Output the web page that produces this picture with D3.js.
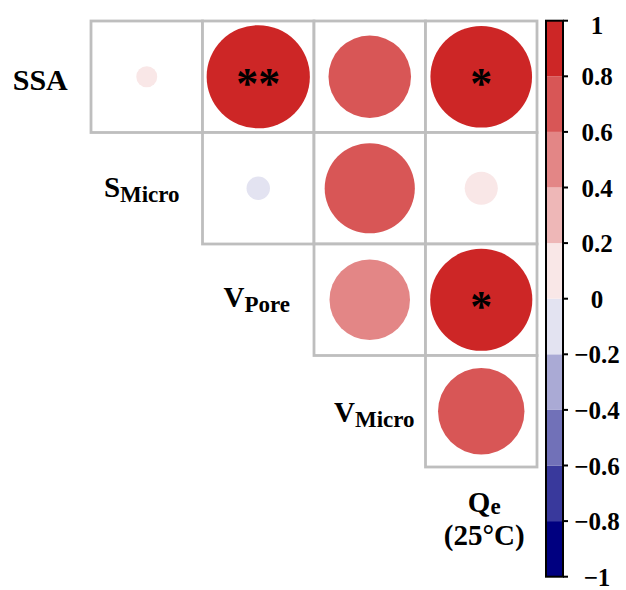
<!DOCTYPE html>
<html>
<head>
<meta charset="utf-8">
<script src="https://cdn.jsdelivr.net/npm/d3@7"></script>
<style>
  html, body { margin: 0; padding: 0; background: #ffffff; }
  svg { display: block; }
  text { font-family: "Liberation Serif", "Times New Roman", serif; font-weight: bold; fill: #000; }
</style>
</head>
<body>
<svg id="chart" width="626" height="590"></svg>
<script>
// Variables of the upper-triangle correlation matrix
const rowVars = ["SSA", "SMicro", "VPore", "VMicro"];
const colVars = ["SMicro", "VPore", "VMicro", "Qe"];

// Correlation coefficients, one array per row (starting at the diagonal column)
const ssaRow    = [0.04, 0.97, 0.62, 0.94];
const sMicroRow = [-0.05, 0.74, 0.10];
const vPoreRow  = [0.59, 0.95];
const vMicroRow = [0.68];

// Significance marks for the same cells
const ssaStars    = ["", "**", "", "*"];
const sMicroStars = ["", "", ""];
const vPoreStars  = ["", "*"];
const vMicroStars = [""];

// Colour bar ticks
const barTicks = [1, 0.8, 0.6, 0.4, 0.2, 0, -0.2, -0.4, -0.6, -0.8, -1];
const barBins = 10;

// Labels on the diagonal: main text and subscript
const labelMain = ["SSA", "S", "V", "V"];
const labelSub  = ["", "Micro", "Pore", "Micro"];

const svg = d3.select("#chart");

// Matrix layout
const gridLeft = 91, gridTop = 21, gridSize = 446;
const x = d3.scaleBand().domain(colVars).range([gridLeft, gridLeft + gridSize]);
const y = d3.scaleBand().domain(rowVars).range([gridTop, gridTop + gridSize]);
const cell = x.bandwidth();

// Colour ramp navy -> white -> firebrick3, split into discrete bins
const ramp = d3.piecewise(d3.interpolateRgb, ["#000080", "#ffffff", "#cd2626"]);
const binColors = d3.range(barBins).map(i => ramp(i / (barBins - 1)));
const color = d3.scaleQuantize().domain([-1, 1]).range(binColors);

// Circle area proportional to |r|
const radius = d3.scaleSqrt().domain([0, 1]).range([0, cell * 0.47]);

const rows = [ssaRow, sMicroRow, vPoreRow, vMicroRow];
const stars = [ssaStars, sMicroStars, vPoreStars, vMicroStars];
const cells = [];
rows.forEach((vals, i) => {
  vals.forEach((v, k) => {
    cells.push({ row: rowVars[i], col: colVars[i + k], value: v, star: stars[i][k] });
  });
});

// Cell frames
svg.append("g")
  .selectAll("rect")
  .data(cells)
  .join("rect")
  .attr("x", d => x(d.col))
  .attr("y", d => y(d.row))
  .attr("width", cell)
  .attr("height", cell)
  .attr("fill", "#ffffff")
  .attr("stroke", "#bebebe")
  .attr("stroke-width", 2.8);

// Circles
svg.append("g")
  .selectAll("circle")
  .data(cells)
  .join("circle")
  .attr("cx", d => x(d.col) + cell / 2)
  .attr("cy", d => y(d.row) + cell / 2)
  .attr("r", d => radius(Math.abs(d.value)))
  .attr("fill", d => color(d.value));

// Significance stars
svg.append("g")
  .selectAll("text")
  .data(cells.filter(d => d.star))
  .join("text")
  .attr("x", d => x(d.col) + cell / 2)
  .attr("y", d => y(d.row) + cell / 2 + 21)
  .attr("text-anchor", "middle")
  .attr("font-size", 44)
  .text(d => d.star);

// Diagonal labels
const labelNudgeX = [5, -5, -1.5, 4.5];
const labelNudgeY = [13.3, 8.5, 7, 10.5];
labelMain.forEach((m, i) => {
  const cx = (i === 0 ? gridLeft - cell / 2 : x(colVars[i - 1]) + cell / 2) + labelNudgeX[i];
  const cy = y(rowVars[i]) + cell / 2 + labelNudgeY[i];
  const t = svg.append("text")
    .attr("x", cx).attr("y", cy)
    .attr("text-anchor", "middle");
  t.append("tspan").attr("font-size", i === 0 ? 30 : 29).text(m);
  if (labelSub[i]) {
    t.append("tspan").attr("font-size", 23).attr("dy", 5).text(labelSub[i]);
  }
});

// Last variable, below its column
const qx = x("Qe") + cell / 2 + 3;
const qTop = y("VMicro") + cell;
const q = svg.append("text").attr("x", qx).attr("y", qTop + 45).attr("text-anchor", "middle");
q.append("tspan").attr("font-size", 29).text("Q");
q.append("tspan").attr("font-size", 23).attr("dy", 2).text("e");
svg.append("text")
  .attr("x", qx).attr("y", qTop + 78)
  .attr("text-anchor", "middle")
  .attr("font-size", 29)
  .text("(25°C)");

// Colour bar
const barX = 546, barW = 17;
const barY = d3.scaleLinear().domain([-1, 1]).range([576.7, 20.7]);
const step = 2 / barBins;
const bar = svg.append("g");
bar.selectAll("rect")
  .data(binColors)
  .join("rect")
  .attr("x", barX)
  .attr("y", (c, i) => barY(-1 + (i + 1) * step))
  .attr("width", barW)
  .attr("height", (c, i) => barY(-1 + i * step) - barY(-1 + (i + 1) * step))
  .attr("fill", c => c);
bar.append("rect")
  .attr("x", barX).attr("y", barY(1))
  .attr("width", barW).attr("height", barY(-1) - barY(1))
  .attr("fill", "none").attr("stroke", "#000").attr("stroke-width", 2);
bar.selectAll("line")
  .data(barTicks)
  .join("line")
  .attr("x1", barX + barW).attr("x2", barX + barW + 5)
  .attr("y1", d => barY(d)).attr("y2", d => barY(d))
  .attr("stroke", "#000").attr("stroke-width", 2);
bar.selectAll("text")
  .data(barTicks)
  .join("text")
  .attr("x", 597)
  .attr("y", d => Math.min(Math.max(barY(d) + 9, 34), 588))
  .attr("text-anchor", "middle")
  .attr("font-size", 25)
  .text(d => d < 0 ? "\u2212" + Math.abs(d) : String(d));
</script>
</body>
</html>
